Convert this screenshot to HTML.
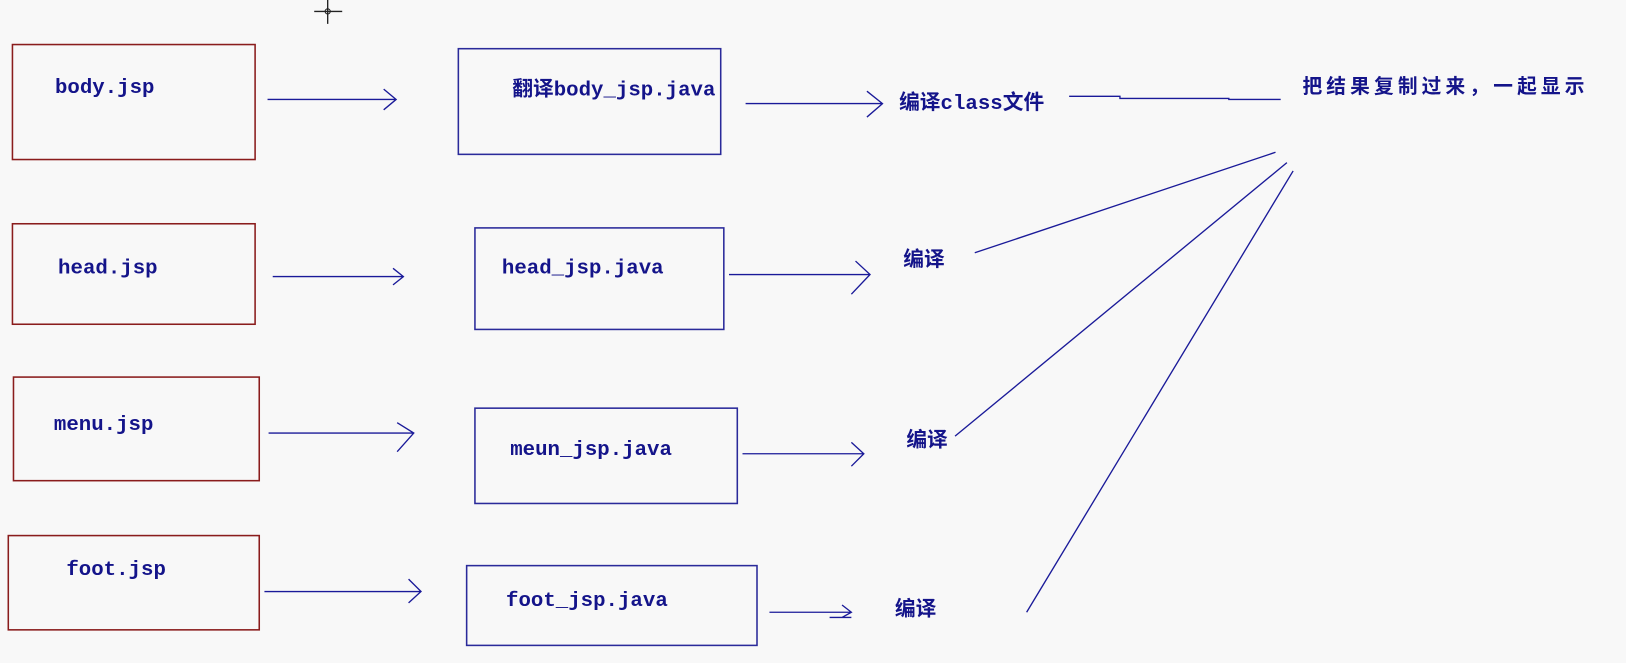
<!DOCTYPE html>
<html><head><meta charset="utf-8"><style>
html,body{margin:0;padding:0;background:#f8f8f8;}
svg{display:block;}
text{font-family:"Liberation Mono","Noto Sans CJK SC",monospace;font-weight:bold;fill:#14148a;font-size:20px;}
</style></head><body>
<svg width="1626" height="663" viewBox="0 0 1568 640" preserveAspectRatio="none">
<rect width="1568" height="640" fill="#f8f8f8"/>
<g stroke="#8a1c1c" stroke-width="1.5" fill="none">
<rect x="12" y="43" width="234" height="111"/>
<rect x="12" y="216" width="234" height="97"/>
<rect x="13" y="364" width="237" height="100"/>
<rect x="8" y="517" width="242" height="91"/>
</g>
<g stroke="#2a2a9a" stroke-width="1.5" fill="none">
<rect x="442" y="47" width="253" height="102"/>
<rect x="458" y="220" width="240" height="98"/>
<rect x="458" y="394" width="253" height="92"/>
<rect x="450" y="546" width="280" height="77"/>
</g>
<g stroke="#1a1a99" stroke-width="1.3" fill="none">
<path d="M258 96H382M370 86L382 96L370 106"/>
<path d="M263 267H389M379 259L389 267L379 275"/>
<path d="M259 418H399M383 408L399 418L383 436"/>
<path d="M255 571H406M394 559L406 571L394 582"/>
<path d="M719 100H851M836 88L851 100L836 113"/>
<path d="M703 265H839M825 252L839 265L821 284"/>
<path d="M716 438H833M821 427L833 438L821 450"/>
<path d="M742 591H821M812 584L821 591L812 596M800 596H821"/>
<path d="M1031 93L1080 93L1080 95L1185 95L1185 96L1235 96"/>
<path d="M940 244L1230 147"/>
<path d="M921 421L1241 157"/>
<path d="M990 591L1247 165"/>
</g>
<g stroke="#222" stroke-width="1.3">
<path d="M303 11H330M316 0V23"/>
</g>
<circle cx="316" cy="11" r="2.5" fill="none" stroke="#222"/>
<text x="53" y="90">body.jsp</text>
<text x="56" y="264">head.jsp</text>
<text x="52" y="415">menu.jsp</text>
<text x="64" y="555">foot.jsp</text>
<text x="494" y="92">翻译body_jsp.java</text>
<text x="484" y="264">head_jsp.java</text>
<text x="492" y="439">meun_jsp.java</text>
<text x="488" y="585">foot_jsp.java</text>
<text x="867" y="105">编译class文件</text>
<text x="871" y="257">编译</text>
<text x="874" y="431">编译</text>
<text x="863" y="594">编译</text>
<text x="1256" y="90" letter-spacing="4" style="font-size:19px">把结果复制过来，一起显示</text>
</svg>
</body></html>
